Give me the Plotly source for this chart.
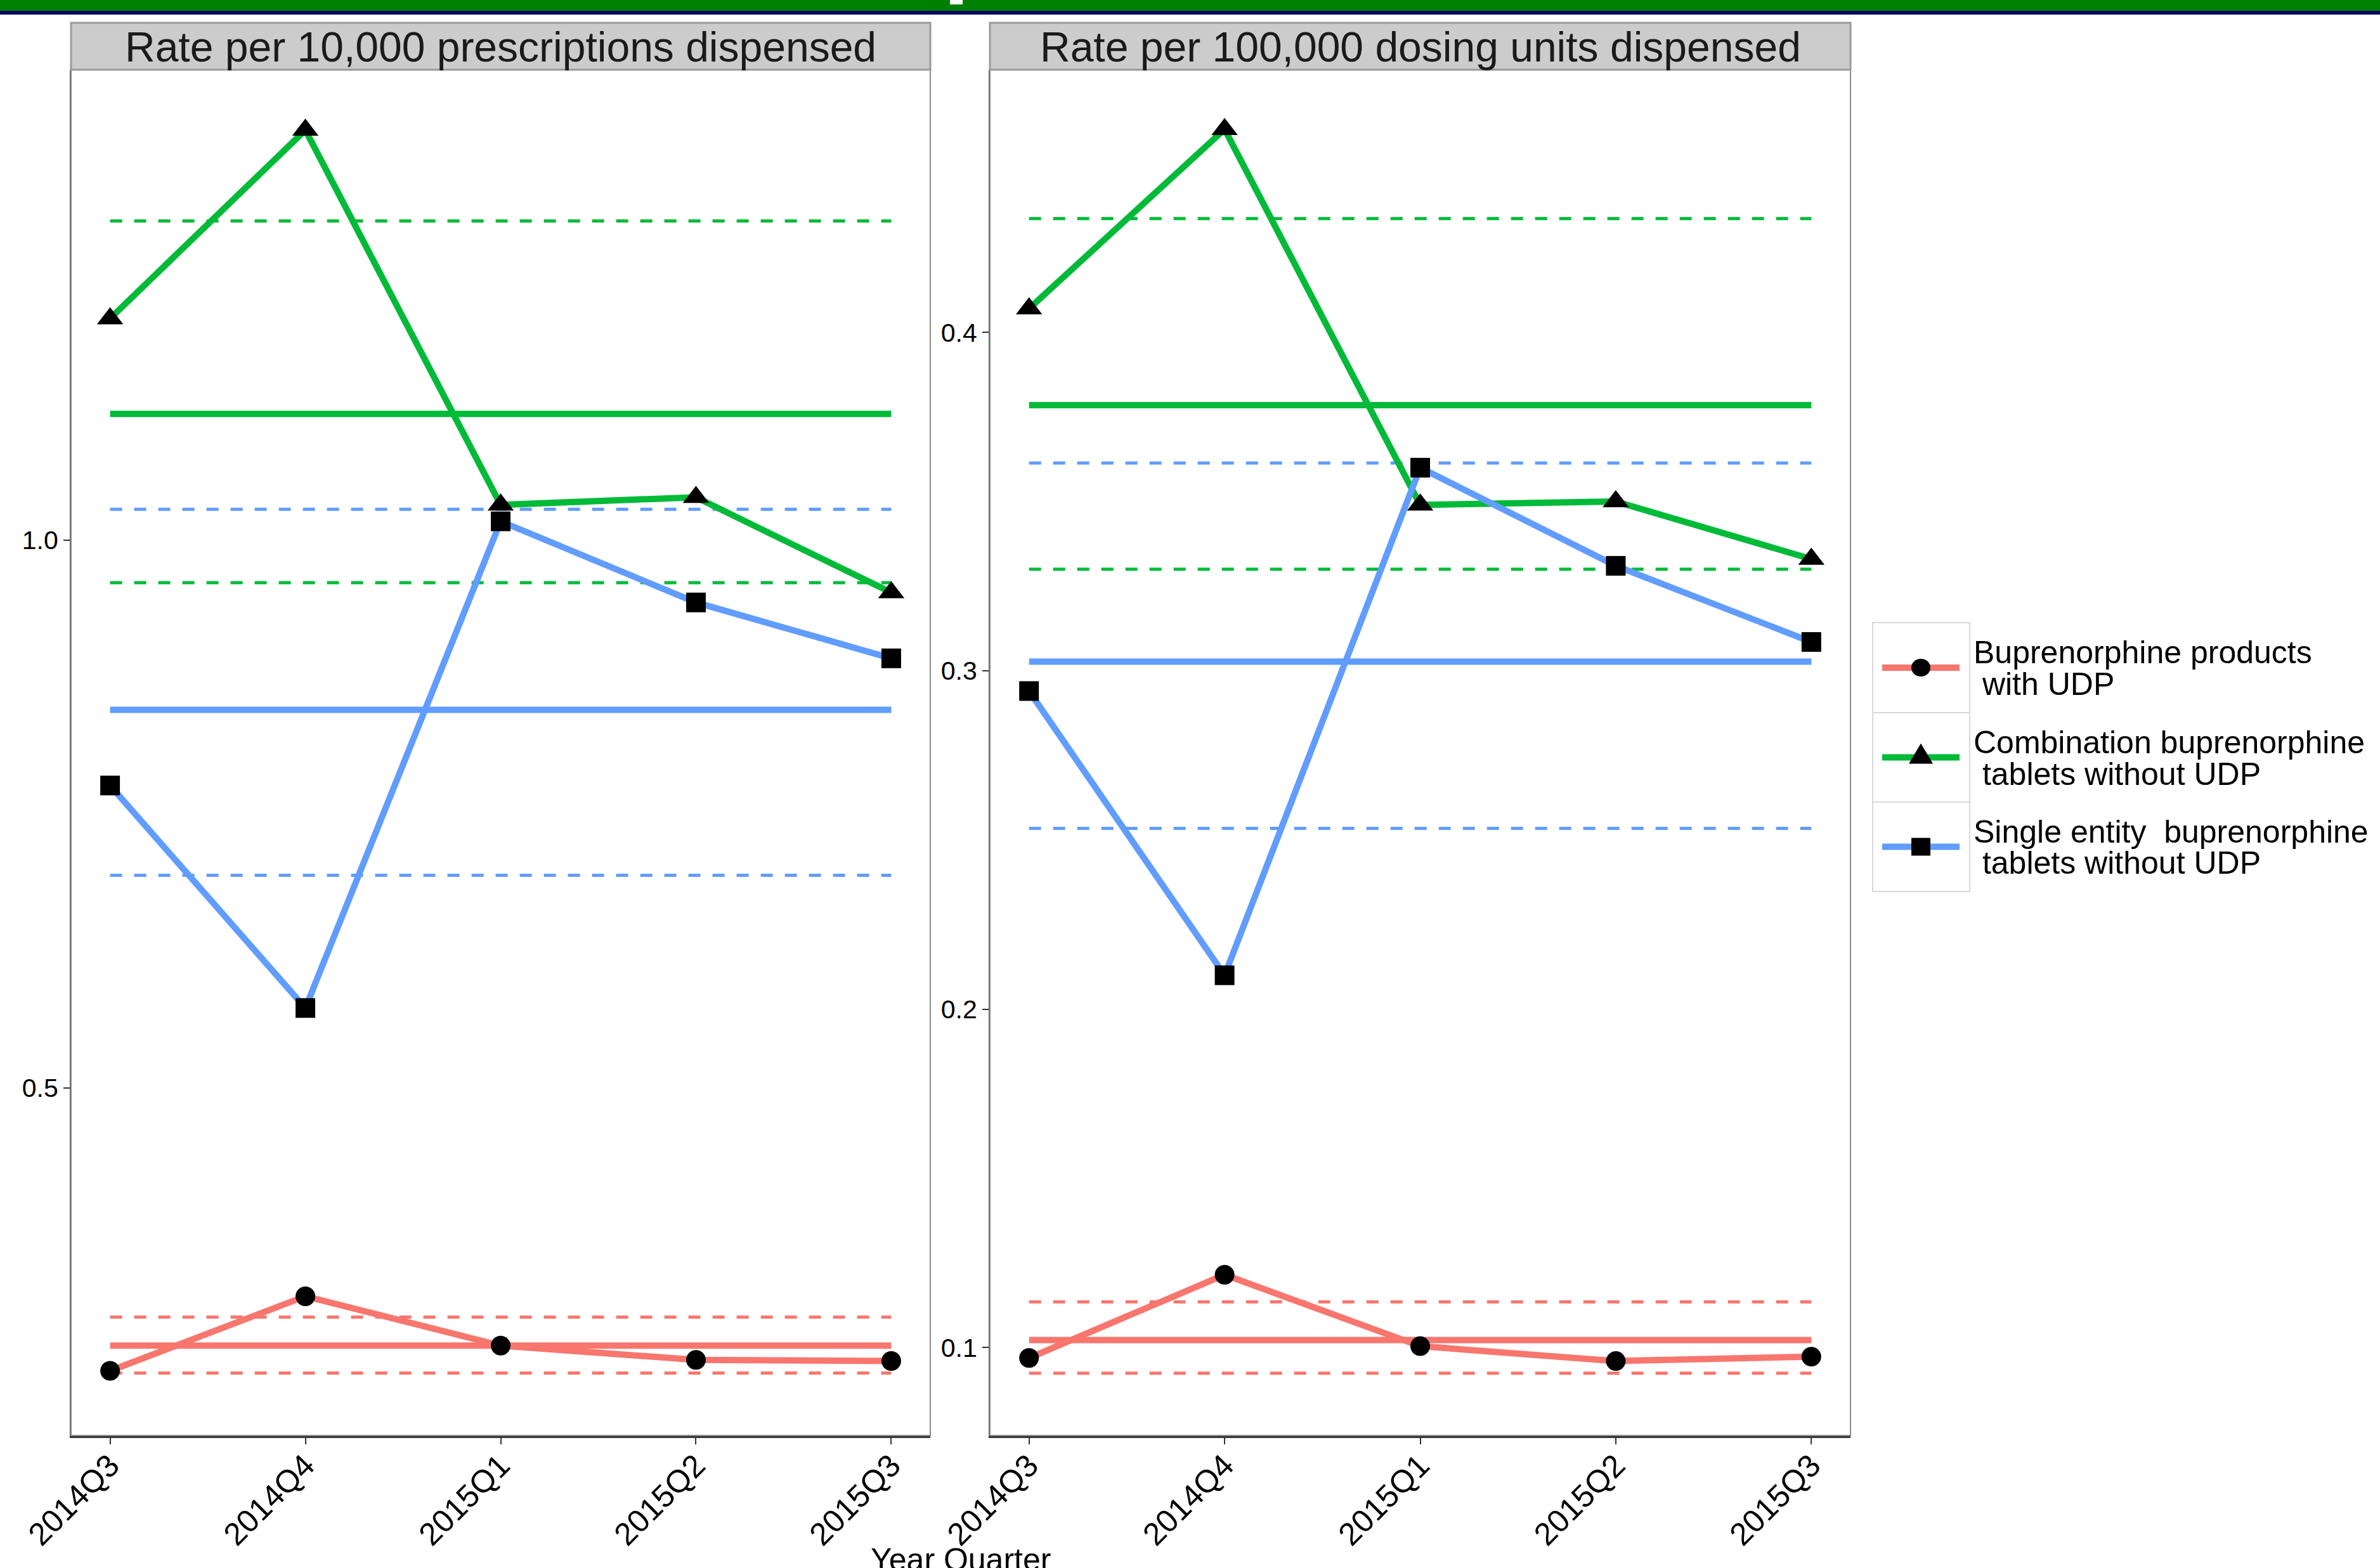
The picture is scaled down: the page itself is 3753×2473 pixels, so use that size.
import plotly.graph_objects as go

# ---- data -------------------------------------------------------------
quarters = ["2014Q3", "2014Q4", "2015Q1", "2015Q2", "2015Q3"]
series_names = [
    ("Buprenorphine products", " with UDP"),
    ("Combination buprenorphine", " tablets without UDP"),
    ("Single entity  buprenorphine", " tablets without UDP"),
]

# Rate per 10,000 prescriptions dispensed
rx_udp = [0.242, 0.310, 0.265, 0.252, 0.251]
rx_combo = [1.202, 1.374, 1.032, 1.039, 0.952]
rx_single = [0.776, 0.573, 1.017, 0.943, 0.892]
rx_mean = [0.265, 1.115, 0.845]
rx_lower = [0.240, 0.961, 0.694]
rx_upper = [0.291, 1.291, 1.028]

# Rate per 100,000 dosing units dispensed
du_udp = [0.0969, 0.1215, 0.1004, 0.0960, 0.0973]
du_combo = [0.407, 0.460, 0.349, 0.350, 0.333]
du_single = [0.294, 0.210, 0.360, 0.331, 0.3085]
du_mean = [0.1022, 0.3785, 0.3027]
du_lower = [0.0924, 0.3300, 0.2534]
du_upper = [0.1135, 0.4336, 0.3614]

panel_titles = ["Rate per 10,000 prescriptions dispensed",
                "Rate per 100,000 dosing units dispensed"]
rx_ticks = [0.5, 1.0]
du_ticks = [0.1, 0.2, 0.3, 0.4]

# ---- styling ----------------------------------------------------------
W, H = 3753, 2473
FONT = "Liberation Sans, Arial, sans-serif"
colors = ["#F8766D", "#00BA38", "#619CFF"]
symbols = ["circle", "triangle-up", "square"]
msizes = [31, 36, 31]


def px(x):
    return x / W


def py(y):
    return 1 - y / H


fig = go.Figure()

panels = [
    dict(x="x", y="y", series=[rx_udp, rx_combo, rx_single],
         mean=rx_mean, lo=rx_lower, hi=rx_upper),
    dict(x="x2", y="y2", series=[du_udp, du_combo, du_single],
         mean=du_mean, lo=du_lower, hi=du_upper),
]

for p in panels:
    ends = [quarters[0], quarters[-1]]
    # confidence bounds (dashed)
    for i in range(3):
        for v in (p["lo"][i], p["hi"][i]):
            fig.add_trace(go.Scatter(
                x=ends, y=[v, v], mode="lines", xaxis=p["x"], yaxis=p["y"],
                line=dict(color=colors[i], width=5, dash="19px,19px"),
                showlegend=False, hoverinfo="skip"))
    # overall mean (solid)
    for i in range(3):
        fig.add_trace(go.Scatter(
            x=ends, y=[p["mean"][i]] * 2, mode="lines", xaxis=p["x"], yaxis=p["y"],
            line=dict(color=colors[i], width=10),
            showlegend=False, hoverinfo="skip"))
    # quarterly rates
    for i in range(3):
        fig.add_trace(go.Scatter(
            x=quarters, y=p["series"][i], mode="lines", xaxis=p["x"], yaxis=p["y"],
            line=dict(color=colors[i], width=10),
            showlegend=False))
    for i in range(3):
        fig.add_trace(go.Scatter(
            x=quarters, y=p["series"][i], mode="markers", xaxis=p["x"], yaxis=p["y"],
            marker=dict(color="black", symbol=symbols[i], size=msizes[i],
                        line=dict(width=0)),
            showlegend=False))

x_dom = [[px(112), px(1467)], [px(1561), px(2918)]]
y_dom = [py(2264), py(110)]

y_common = dict(showgrid=False, zeroline=False, ticks="outside", automargin=False,
                tickcolor="#333333", tickwidth=2, ticklen=10,
                showline=True, linecolor="#555555", linewidth=2,
                tickfont=dict(family=FONT, size=41, color="black"))
x_common = dict(showgrid=False, zeroline=False, ticks="outside", automargin=False,
                tickcolor="#333333", tickwidth=2, ticklen=10, ticklabelstandoff=-16,
                type="category", categoryorder="array", categoryarray=quarters,
                range=[-0.2, 4.2], tickangle=-45,
                showline=True, linecolor="#333333", linewidth=4,
                tickfont=dict(family=FONT, size=50, color="black"))

fig.update_layout(
    width=W, height=H,
    margin=dict(l=0, r=0, t=0, b=0),
    paper_bgcolor="white", plot_bgcolor="white",
    xaxis=dict(domain=x_dom[0], anchor="y", **x_common),
    yaxis=dict(domain=y_dom, range=[0.183, 1.429], anchor="x",
               tickvals=rx_ticks, ticktext=["0.5", "1.0"], **y_common),
    xaxis2=dict(domain=x_dom[1], anchor="y2", **x_common),
    yaxis2=dict(domain=y_dom, range=[0.074, 0.4776], anchor="x2",
                tickvals=du_ticks, ticktext=["0.1", "0.2", "0.3", "0.4"], **y_common),
)

shapes = []
annotations = []

# header band
shapes.append(dict(type="rect", xref="paper", yref="paper", x0=0, x1=1,
                   y0=py(17), y1=1, fillcolor="#008000", line=dict(width=0), layer="above"))
shapes.append(dict(type="rect", xref="paper", yref="paper", x0=0, x1=1,
                   y0=py(23), y1=py(17), fillcolor="#000066", line=dict(width=0), layer="above"))
shapes.append(dict(type="rect", xref="paper", yref="paper", x0=px(1498), x1=px(1518),
                   y0=py(7), y1=1, fillcolor="white", line=dict(width=0), layer="above"))

for k in range(2):
    x0, x1 = x_dom[k]
    # panel border
    shapes.append(dict(type="rect", xref="paper", yref="paper", x0=x0, x1=x1,
                       y0=y_dom[0], y1=y_dom[1], line=dict(color="#8c8c8c", width=2),
                       fillcolor="rgba(0,0,0,0)", layer="above"))
    # strip
    shapes.append(dict(type="rect", xref="paper", yref="paper", x0=x0, x1=x1,
                       y0=py(110), y1=py(36), fillcolor="#CCCCCC",
                       line=dict(color="#9a9a9a", width=3)))
    annotations.append(dict(text=panel_titles[k], xref="paper", yref="paper",
                            x=(x0 + x1) / 2, y=py(74), xanchor="center", yanchor="middle",
                            showarrow=False, font=dict(family=FONT, size=66, color="#1a1a1a")))

annotations.append(dict(text="Year Quarter", xref="paper", yref="paper",
                        x=px(1515), y=py(2430), xanchor="center", yanchor="top",
                        showarrow=False, font=dict(family=FONT, size=50, color="black")))

# legend
box_edges = [982, 1124, 1265, 1406]
key_x0, key_x1 = 2953, 3106
for i in range(3):
    top, bot = box_edges[i], box_edges[i + 1]
    cy = (top + bot) / 2
    shapes.append(dict(type="rect", xref="paper", yref="paper", x0=px(key_x0), x1=px(key_x1),
                       y0=py(bot), y1=py(top), line=dict(color="#d9d9d9", width=2),
                       fillcolor="white"))
    shapes.append(dict(type="line", xref="paper", yref="paper", x0=px(2968), x1=px(3090),
                       y0=py(cy), y1=py(cy), line=dict(color=colors[i], width=10)))
    mx = 3029
    if symbols[i] == "circle":
        shapes.append(dict(type="circle", xref="paper", yref="paper",
                           x0=px(mx - 15), x1=px(mx + 15), y0=py(cy + 14), y1=py(cy - 14),
                           fillcolor="black", line=dict(width=0)))
    elif symbols[i] == "square":
        shapes.append(dict(type="rect", xref="paper", yref="paper",
                           x0=px(mx - 15), x1=px(mx + 15), y0=py(cy + 14), y1=py(cy - 14),
                           fillcolor="black", line=dict(width=0)))
    else:
        path = "M {:.5f},{:.5f} L {:.5f},{:.5f} L {:.5f},{:.5f} Z".format(
            px(mx - 19), py(cy + 10), px(mx + 19), py(cy + 10), px(mx), py(cy - 22))
        shapes.append(dict(type="path", xref="paper", yref="paper", path=path,
                           fillcolor="black", line=dict(width=0)))
    line1, line2 = series_names[i]
    annotations.append(dict(text=line1, xref="paper", yref="paper", x=px(3110), y=py(cy - 24),
                            xanchor="left", yanchor="middle", showarrow=False,
                            font=dict(family=FONT, size=50, color="black")))
    annotations.append(dict(text=line2.replace(" ", "&nbsp;", 1), xref="paper", yref="paper",
                            x=px(3110), y=py(cy + 26),
                            xanchor="left", yanchor="middle", showarrow=False,
                            font=dict(family=FONT, size=50, color="black")))

fig.update_layout(shapes=shapes, annotations=annotations)
fig.write_html("out.html")
